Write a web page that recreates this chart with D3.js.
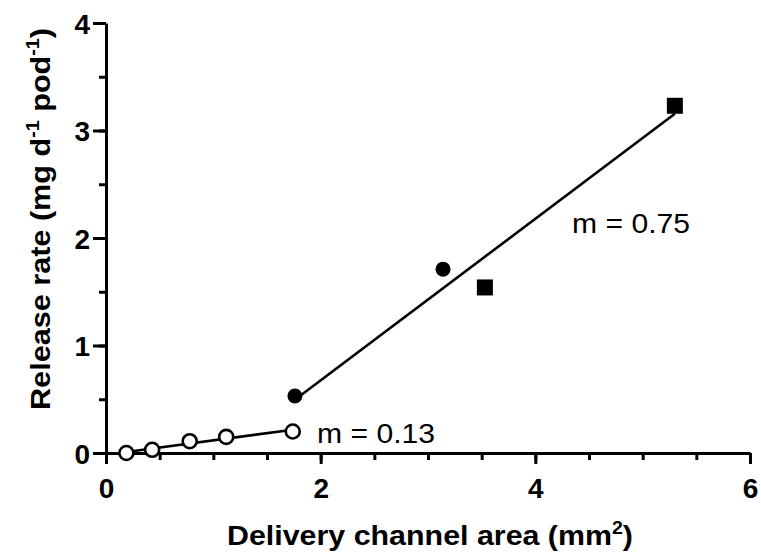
<!DOCTYPE html>
<html>
<head>
<meta charset="utf-8">
<script src="https://cdn.jsdelivr.net/npm/d3@7"></script>
<style>
  body { margin: 0; background: #fff; }
  text { font-family: "Liberation Sans", Arial, sans-serif; fill: #000; }
</style>
</head>
<body>
<div id="chart"></div>
<script>
// data
const openArea = [0.19, 0.43, 0.78, 1.12, 1.74];
const openRate = [0.00, 0.03, 0.11, 0.15, 0.20];
const circleArea = [1.76, 3.14];
const circleRate = [0.53, 1.71];
const squareArea = [3.53, 5.30];
const squareRate = [1.54, 3.23];
const xTicks = [0, 2, 4, 6];
const yTicks = [0, 1, 2, 3, 4];
const slopeLabels = ["m = 0.13", "m = 0.75"];

const width = 761, height = 554;

const svg = d3.select("#chart").append("svg")
    .attr("width", width)
    .attr("height", height);

const x = d3.scaleLinear().domain([0, 6]).range([106, 750]);
const y = d3.scaleLinear().domain([0, 4]).range([453, 23]);

// least squares fit for a group of points
function fit(xs, ys) {
    const mx = d3.mean(xs), my = d3.mean(ys);
    let sxy = 0, sxx = 0;
    xs.forEach((v, i) => { sxy += (v - mx) * (ys[i] - my); sxx += (v - mx) * (v - mx); });
    const m = sxy / sxx;
    return { m: m, b: my - m * mx, x0: d3.min(xs), x1: d3.max(xs) };
}

// minor ticks
svg.append("g")
    .attr("transform", `translate(0,${y(0)})`)
    .call(d3.axisBottom(x).tickValues(d3.range(0, 6.01, 0.5)).tickSize(7).tickSizeOuter(0).tickFormat(""))
    .call(g => g.select(".domain").remove())
    .call(g => g.selectAll("line").attr("stroke", "#000").attr("stroke-width", 3));

svg.append("g")
    .attr("transform", `translate(${x(0)},0)`)
    .call(d3.axisLeft(y).tickValues(d3.range(0, 4.01, 0.5)).tickSize(7).tickSizeOuter(0).tickFormat(""))
    .call(g => g.select(".domain").remove())
    .call(g => g.selectAll("line").attr("stroke", "#000").attr("stroke-width", 3));

// major axes
const xAxis = svg.append("g")
    .attr("transform", `translate(0,${y(0)})`)
    .call(d3.axisBottom(x).tickValues(xTicks).tickSize(11).tickSizeOuter(0).tickFormat(d3.format("d")));

const yAxis = svg.append("g")
    .attr("transform", `translate(${x(0)},0)`)
    .call(d3.axisLeft(y).tickValues(yTicks).tickSize(13).tickSizeOuter(0).tickFormat(d3.format("d")));

[xAxis, yAxis].forEach(g => {
    g.select(".domain").attr("stroke", "#000").attr("stroke-width", 3);
    g.selectAll("line").attr("stroke", "#000").attr("stroke-width", 3);
    g.selectAll("text")
        .style("font-family", "'Liberation Sans', Arial, sans-serif")
        .style("font-size", "28px")
        .style("font-weight", "bold")
        .attr("fill", "#000");
});
xAxis.selectAll("text").attr("y", 45).attr("dy", 0);
yAxis.selectAll("text").attr("x", -16).attr("dy", "0.36em");

// fit lines
const line = d3.line().x(d => x(d[0])).y(d => y(d[1]));
const lowFit = fit(openArea, openRate);
const highFit = fit(circleArea.concat(squareArea), circleRate.concat(squareRate));
[lowFit, highFit].forEach(f => {
    svg.append("path")
        .datum([[f.x0, f.m * f.x0 + f.b], [f.x1, f.m * f.x1 + f.b]])
        .attr("fill", "none")
        .attr("stroke", "#000")
        .attr("stroke-width", 2.6)
        .attr("d", line);
});

// open circles
svg.selectAll(".open")
    .data(openArea)
    .enter().append("circle")
    .attr("cx", d => x(d))
    .attr("cy", (d, i) => y(openRate[i]))
    .attr("r", 7)
    .attr("fill", "#fff")
    .attr("stroke", "#000")
    .attr("stroke-width", 2.6);

// filled circles
svg.selectAll(".filled")
    .data(circleArea)
    .enter().append("circle")
    .attr("cx", d => x(d))
    .attr("cy", (d, i) => y(circleRate[i]))
    .attr("r", 7.5)
    .attr("fill", "#000");

// squares
svg.selectAll(".sq")
    .data(squareArea)
    .enter().append("rect")
    .attr("x", d => x(d) - 8)
    .attr("y", (d, i) => y(squareRate[i]) - 8)
    .attr("width", 16)
    .attr("height", 16)
    .attr("fill", "#000");

// slope labels
svg.append("text")
    .attr("x", 317).attr("y", 443)
    .attr("textLength", 118).attr("lengthAdjust", "spacingAndGlyphs")
    .style("font-size", "28px")
    .text(slopeLabels[0]);
svg.append("text")
    .attr("x", 572).attr("y", 233)
    .attr("textLength", 118).attr("lengthAdjust", "spacingAndGlyphs")
    .style("font-size", "28px")
    .text(slopeLabels[1]);

// axis titles
const xt = svg.append("text")
    .attr("x", 227).attr("y", 545)
    .attr("textLength", 406).attr("lengthAdjust", "spacingAndGlyphs")
    .style("font-size", "28px")
    .style("font-weight", "bold")
    .text("Delivery channel area (mm");
xt.append("tspan").attr("dy", -11).style("font-size", "18px").text("2");
xt.append("tspan").attr("dy", 11).text(")");

const yt = svg.append("text")
    .attr("transform", "translate(50,410) rotate(-90)")
    .attr("textLength", 382).attr("lengthAdjust", "spacingAndGlyphs")
    .style("font-size", "28px")
    .style("font-weight", "bold")
    .text("Release rate (mg d");
yt.append("tspan").attr("dy", -11).style("font-size", "18px").text("-1");
yt.append("tspan").attr("dy", 11).text(" pod");
yt.append("tspan").attr("dy", -11).style("font-size", "18px").text("-1");
yt.append("tspan").attr("dy", 11).text(")");
</script>
</body>
</html>
